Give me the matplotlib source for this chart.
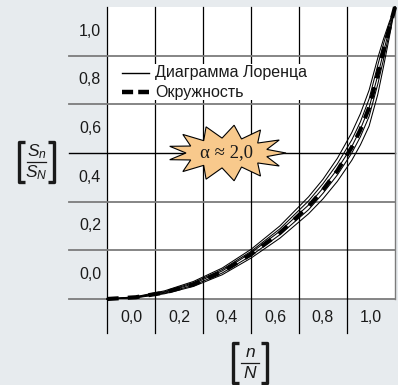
import numpy as np
import matplotlib
matplotlib.use("Agg")
import matplotlib.pyplot as plt
from matplotlib.patches import Polygon, Rectangle

plt.rcParams["mathtext.fontset"] = "custom"
plt.rcParams["mathtext.rm"] = "Liberation Sans"
plt.rcParams["mathtext.it"] = "Liberation Sans:italic"

# share of population n/N
x = [0.0, 0.1, 0.2, 0.3, 0.4, 0.5, 0.6, 0.7, 0.75, 0.8, 0.85, 0.88, 0.91, 0.94, 0.96, 0.98, 1.0]

# circle-arc approximation (thick dashed)
circle = [0.0, 0.006, 0.022, 0.050, 0.093, 0.153, 0.226, 0.318, 0.374, 0.440, 0.520, 0.580, 0.655, 0.770, 0.850, 0.925, 1.0]

# Lorenz curves (thin lines)
lorenz = [
    [0.0, 0.008, 0.028, 0.060, 0.106, 0.170, 0.250, 0.350, 0.410, 0.482, 0.570, 0.635, 0.715, 0.825, 0.890, 0.948, 1.0],
    [0.0, 0.007, 0.025, 0.056, 0.101, 0.163, 0.240, 0.336, 0.395, 0.463, 0.545, 0.607, 0.685, 0.800, 0.873, 0.940, 1.0],
    [0.0, 0.006, 0.023, 0.052, 0.096, 0.158, 0.232, 0.322, 0.380, 0.445, 0.522, 0.582, 0.655, 0.765, 0.845, 0.925, 1.0],
    [0.0, 0.005, 0.020, 0.047, 0.089, 0.148, 0.220, 0.306, 0.362, 0.425, 0.500, 0.556, 0.625, 0.735, 0.820, 0.910, 1.0],
    [0.0, 0.004, 0.018, 0.043, 0.083, 0.140, 0.208, 0.292, 0.343, 0.403, 0.475, 0.528, 0.592, 0.700, 0.795, 0.895, 1.0],
]

x_ticklabels = ["0,0", "0,2", "0,4", "0,6", "0,8", "1,0"]
y_ticklabels = ["0,0", "0,2", "0,4", "0,6", "0,8", "1,0"]
legend_labels = ["Диаграмма Лоренца", "Окружность"]
badge_text = "α ≈ 2,0"
y_label = ("$S_n$", "$S_N$")
x_label = ("$n$", "$N$")

BG = "#e7ebee"
GRAY = "#7c7c7c"
INK = "#1a1a1a"
W, H = 398, 385
L, R, B, T = 107, 395, 299, 7   # plot box in pixels

fig = plt.figure(figsize=(W / 100, H / 100), dpi=100, facecolor=BG)
ax = fig.add_axes([L / W, (H - B) / H, (R - L) / W, (B - T) / H])
ax.set_xlim(0, 1)
ax.set_ylim(0, 1)
ax.axis("off")

def px(xp):
    return (xp - L) / (R - L)

def py(yp):
    return (B - yp) / (B - T)

ax.add_patch(Rectangle((0, 0), 1, 1, facecolor="white", edgecolor="none", zorder=0))

# grid
n = 6
for k in range(n):
    ax.plot([k / n, k / n], [py(333), 1], color="black", lw=0.9, zorder=1, clip_on=False)
    ax.plot([px(69), 1], [k / n, k / n], color="black" if k == 3 else GRAY,
            lw=1.0 if k == 3 else 1.3, zorder=1, clip_on=False)
ax.plot([1, 1], [0, 1], color=GRAY, lw=1.0, zorder=1, clip_on=False)

# tick labels centred in cells
tick_font = dict(family=["Liberation Sans", "DejaVu Sans"], fontsize=11.5, color=INK)
for k, lab in enumerate(y_ticklabels):
    ax.text(px(101), (k + 0.5) / n, lab, ha="right", va="center", **tick_font)
for k, lab in enumerate(x_ticklabels):
    ax.text((k + 0.5) / n, py(318), lab, ha="center", va="center", **tick_font)

# bracketed fraction labels
def bracket_fraction(x0, x1, y0, y1, num, den, num_y, den_y, size):
    xm = (x0 + x1) / 2
    ym = (y0 + y1) / 2
    kw = dict(color=INK, lw=2.4, clip_on=False, solid_capstyle="butt", zorder=3)
    hook = 6
    ax.plot([px(x0 + hook), px(x0), px(x0), px(x0 + hook)], [py(y0), py(y0), py(y1), py(y1)], **kw)
    ax.plot([px(x1 - hook), px(x1), px(x1), px(x1 - hook)], [py(y0), py(y0), py(y1), py(y1)], **kw)
    ax.plot([px(x0 + 8), px(x1 - 8)], [py(ym), py(ym)], color=INK, lw=0.9, clip_on=False)
    ax.text(px(xm), py(num_y), num, ha="center", va="center", fontsize=size, color=INK)
    ax.text(px(xm), py(den_y), den, ha="center", va="center", fontsize=size, color=INK)

bracket_fraction(19, 54, 142, 182, y_label[0], y_label[1], 152, 173, 12.5)
bracket_fraction(233, 267, 343, 383, x_label[0], x_label[1], 352, 373, 12.5)

# legend
ax.add_patch(Rectangle((px(150), py(100)), px(304) - px(150), py(64) - py(100),
                       facecolor="white", edgecolor="none", zorder=2))
leg_font = dict(family=["Liberation Sans Narrow", "DejaVu Sans Condensed", "Liberation Sans"],
                fontsize=11.5, color=INK, va="center", ha="left", zorder=3)
ax.plot([px(122), px(149)], [py(73), py(73)], color="black", lw=1.0, zorder=3)
ax.plot([px(122), px(149)], [py(92), py(92)], color="black", lw=3.2,
        linestyle=(0, (2.5, 1.15)), dash_capstyle="butt", zorder=3)
ax.text(px(155), py(73), legend_labels[0], **leg_font)
ax.text(px(155), py(92), legend_labels[1], **leg_font)

# star badge
cx, cy = 227, 153
spikes = 13
verts = []
for i in range(2 * spikes):
    a = np.pi * i / spikes
    if i % 2 == 0:
        rx, ry = 59, 28
    else:
        rx, ry = 41, 15
    verts.append((px(cx + rx * np.cos(a)), py(cy - ry * np.sin(a))))
ax.add_patch(Polygon(verts, closed=True, facecolor="#f8c98c", edgecolor="black",
                     lw=0.8, zorder=2))
ax.text(px(cx), py(cy), badge_text, ha="center", va="center", fontsize=13.5,
        family=["Liberation Serif", "DejaVu Serif"], color=INK, zorder=3)

# curves
for ys in lorenz:
    ax.plot(x, ys, color="black", lw=0.75, zorder=4, clip_on=False)
ax.plot(x, circle, color="black", lw=3.0, linestyle=(0, (2.8, 2.2)),
        dash_capstyle="butt", zorder=5, clip_on=False)

fig.savefig("out.png", dpi=100, facecolor=BG)
